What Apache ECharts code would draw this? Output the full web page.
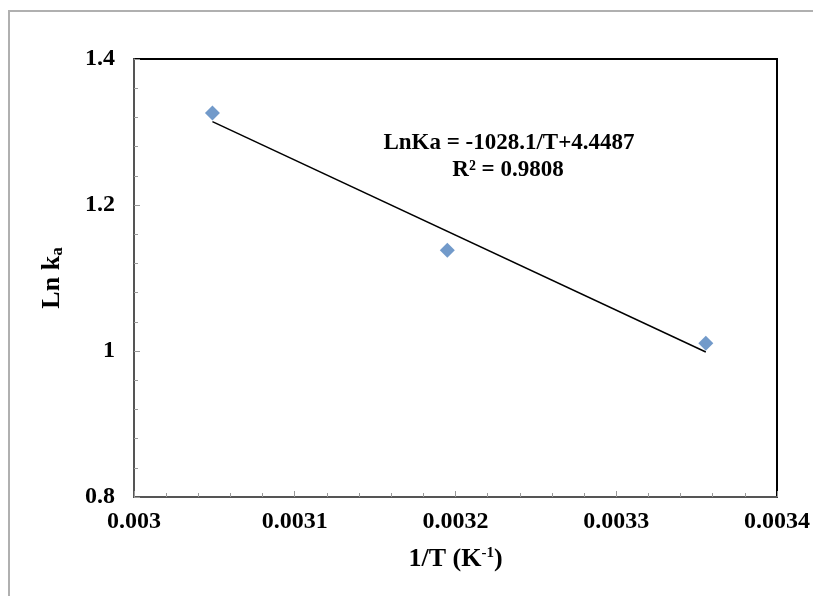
<!DOCTYPE html>
<html lang="en">
<head>
    <meta charset="UTF-8">
    <title>Ln ka vs 1/T</title>
    <script src="https://cdn.jsdelivr.net/npm/echarts@6/dist/echarts.min.js"></script>
    <style>
        body { margin: 0; background: #fff; }
        #frame { position: absolute; left: 8px; top: 10px; width: 820px; height: 600px; border: 2px solid #b0b0b0; box-sizing: border-box; }
    </style>
</head>
<body>
<div id="frame"></div>
<div id="main" style="position:absolute;left:0;top:0;width: 813px;height:596px;"></div>
<script>
    // data
    var invT = [0.0030488, 0.0031949, 0.0033557];
    var lnKa = [1.326, 1.138, 1.0105];
    // trendline from the fitted equation
    var slope = -1028.1;
    var intercept = 4.4487;
    var eqText = ['LnKa = -1028.1/T+4.4487', 'R² = 0.9808'];

    var points = [];
    for (var i = 0; i < invT.length; i++) {
        points.push([invT[i], lnKa[i]]);
    }
    var x0 = invT[0], x1 = invT[invT.length - 1];
    var fit = [[x0, slope * x0 + intercept], [x1, slope * x1 + intercept]];

    var font = 'Liberation Serif';
    var myChart = echarts.init(document.getElementById('main'));
    myChart.setOption({
        animation: false,
        grid: {
            left: 134, top: 59, right: 36, bottom: 99,
            show: true, borderColor: '#000', borderWidth: 2
        },
        xAxis: {
            type: 'value', min: 0.003, max: 0.0034, interval: 0.0001,
            axisLine: { onZero: false, lineStyle: { color: '#555', width: 2 } },
            axisTick: { inside: true, length: 6, lineStyle: { color: '#999' } },
            minorTick: { show: true, splitNumber: 5, length: 4, lineStyle: { color: '#999' } },
            splitLine: { show: false },
            axisLabel: {
                color: '#000', fontFamily: font, fontWeight: 'bold', fontSize: 24, margin: 13,
                formatter: function (v) { return parseFloat(v.toFixed(4)).toString(); }
            },
            name: '{b|1/T (K}{s|-1}{b|)}',
            nameLocation: 'middle', nameGap: 49,
            nameTextStyle: {
                rich: {
                    b: { fontFamily: font, fontWeight: 'bold', fontSize: 26, color: '#000' },
                    s: { fontFamily: font, fontWeight: 'bold', fontSize: 15, color: '#000', verticalAlign: 'top', padding: [0, 0, 10, 0] }
                }
            }
        },
        yAxis: {
            type: 'value', min: 0.8, max: 1.4, interval: 0.2,
            axisLine: { show: true, onZero: false, lineStyle: { color: '#555', width: 2 } },
            axisTick: { show: true, inside: true, length: 6, lineStyle: { color: '#999' } },
            minorTick: { show: true, splitNumber: 5, length: 4, lineStyle: { color: '#999' } },
            splitLine: { show: false },
            axisLabel: {
                color: '#000', fontFamily: font, fontWeight: 'bold', fontSize: 24, margin: 19,
                formatter: function (v) { return parseFloat(v.toFixed(1)).toString(); }
            },
            name: '{b|Ln k}{s|a}',
            nameLocation: 'middle', nameGap: 68, nameRotate: 90,
            nameTextStyle: {
                rich: {
                    b: { fontFamily: font, fontWeight: 'bold', fontSize: 26, color: '#000' },
                    s: { fontFamily: font, fontWeight: 'bold', fontSize: 17, color: '#000', verticalAlign: 'bottom', padding: [10, 0, 0, 0] }
                }
            }
        },
        series: [{
            name: 'fit',
            type: 'line',
            data: fit,
            symbol: 'none',
            lineStyle: { color: '#000', width: 1.5 },
            z: 2
        }, {
            name: 'lnKa',
            type: 'scatter',
            data: points,
            symbol: 'diamond',
            symbolSize: 15,
            itemStyle: { color: '#4F81BD' },
            z: 3
        }],
        graphic: [{
            type: 'text', x: 509, y: 143,
            style: { text: eqText[0], font: 'bold 23px "Liberation Serif"', fill: '#000', textAlign: 'center', textVerticalAlign: 'middle' }
        }, {
            type: 'text', x: 508, y: 170,
            style: { text: eqText[1], font: 'bold 23px "Liberation Serif"', fill: '#000', textAlign: 'center', textVerticalAlign: 'middle' }
        }]
    });
</script>
</body>
</html>
